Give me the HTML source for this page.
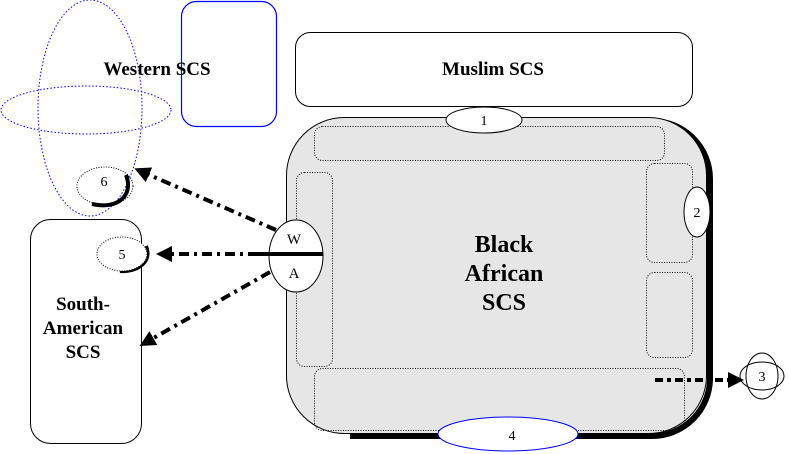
<!DOCTYPE html>
<html><head><style>body{margin:0;background:#fff}svg{display:block}text{font-family:"Liberation Serif",serif;font-weight:bold}</style></head><body>
<svg width="789" height="454" viewBox="0 0 789 454" xmlns="http://www.w3.org/2000/svg">
<defs><marker id="ah" markerWidth="4" markerHeight="4" refX="3" refY="2" orient="auto"><path d="M0,0L4,2L0,4z" fill="#000"/></marker></defs>
<!-- Western -->
<rect x="181.5" y="1.5" width="95" height="125" rx="15" fill="none" stroke="#00f" stroke-width="1.2"/>
<ellipse cx="90" cy="108" rx="52" ry="108" fill="none" stroke="#00f" stroke-dasharray="1.5,2"/>
<ellipse cx="86" cy="110" rx="85" ry="24" fill="none" stroke="#00f" stroke-dasharray="1.5,2"/>
<text x="157" y="75" font-size="19" text-anchor="middle">Western SCS</text>
<!-- Muslim -->
<rect x="295.5" y="32.5" width="397" height="74" rx="15" fill="#fff" stroke="#000"/>
<text x="493" y="75" font-size="19" text-anchor="middle">Muslim SCS</text>
<!-- Black African -->
<path d="M350,121 H652 a58,58 0 0 1 58,58 V378 a58,58 0 0 1 -58,58 H350" fill="none" stroke="#000" stroke-width="6"/>
<rect x="286.5" y="117.5" width="420" height="316" rx="58" fill="#e6e6e6" stroke="#000"/>
<g fill="none" stroke="#000" stroke-dasharray="1,1.5">
<rect x="314.5" y="126.5" width="350" height="34" rx="8"/>
<rect x="296.5" y="172.5" width="36" height="194" rx="8"/>
<rect x="646.5" y="163.5" width="46" height="99" rx="8"/>
<rect x="646.5" y="272.5" width="46" height="85" rx="8"/>
<rect x="314.5" y="368.5" width="370" height="62" rx="8"/>
</g>
<text x="504" y="252" font-size="24" text-anchor="middle">Black</text>
<text x="504" y="281" font-size="24" text-anchor="middle">African</text>
<text x="504" y="310" font-size="24" text-anchor="middle">SCS</text>
<ellipse cx="484" cy="120" rx="38" ry="13" fill="#fff" stroke="#000"/>
<text x="484" y="125" font-size="14" text-anchor="middle" style="font-weight:normal">1</text>
<ellipse cx="697" cy="212" rx="13" ry="25" fill="#fff" stroke="#000"/>
<text x="697" y="217" font-size="14" text-anchor="middle" style="font-weight:normal">2</text>
<ellipse cx="508" cy="434" rx="70" ry="17" fill="#fff" stroke="#00f"/>
<text x="512" y="440" font-size="14" text-anchor="middle" style="font-weight:normal">4</text>
<!-- WA -->
<ellipse cx="296" cy="256" rx="27" ry="36" fill="#fff" stroke="#000"/>
<line x1="255" y1="254" x2="323" y2="254" stroke="#000" stroke-width="4"/>
<text x="294" y="244" font-size="15" text-anchor="middle" style="font-weight:normal">W</text>
<text x="294" y="278" font-size="15" text-anchor="middle" style="font-weight:normal">A</text>
<!-- South American -->
<rect x="30.5" y="219.5" width="111" height="224" rx="20" fill="#fff" stroke="#000"/>
<text x="83" y="310" font-size="19" text-anchor="middle">South-</text>
<text x="83" y="334" font-size="19" text-anchor="middle">American</text>
<text x="83" y="358" font-size="19" text-anchor="middle">SCS</text>
<!-- 6 and 5 -->
<path d="M126,175 C134,195 118,210 92,204" fill="none" stroke="#000" stroke-width="4"/>
<ellipse cx="105" cy="186" rx="28" ry="19" fill="none" stroke="#000" stroke-dasharray="1,1.5"/>
<text x="104" y="186" font-size="14" text-anchor="middle" style="font-weight:normal">6</text>
<path d="M146,246 C152,260 140,272 120,271" fill="none" stroke="#000" stroke-width="4"/>
<ellipse cx="122" cy="254" rx="25" ry="17" fill="#fff" stroke="#000" stroke-dasharray="1,1.5"/>
<text x="122" y="259" font-size="14" text-anchor="middle" style="font-weight:normal">5</text>
<!-- arrows -->
<g stroke="#000" stroke-width="4" stroke-dasharray="10,5,3,5" fill="none" marker-end="url(#ah)">
<line x1="276" y1="230" x2="138" y2="170"/>
<line x1="258" y1="254" x2="160" y2="254"/>
<line x1="270" y1="272" x2="143" y2="344"/>
<line x1="655" y1="380" x2="740" y2="380" stroke-dasharray="8,4,4,4"/>
</g>
<!-- 3 -->
<g fill="none" stroke="#000">
<ellipse cx="762" cy="376" rx="16" ry="23"/>
<ellipse cx="762" cy="376" rx="22" ry="14"/>
</g>
<text x="762" y="381" font-size="14" text-anchor="middle" style="font-weight:normal">3</text>
</svg>
</body></html>
